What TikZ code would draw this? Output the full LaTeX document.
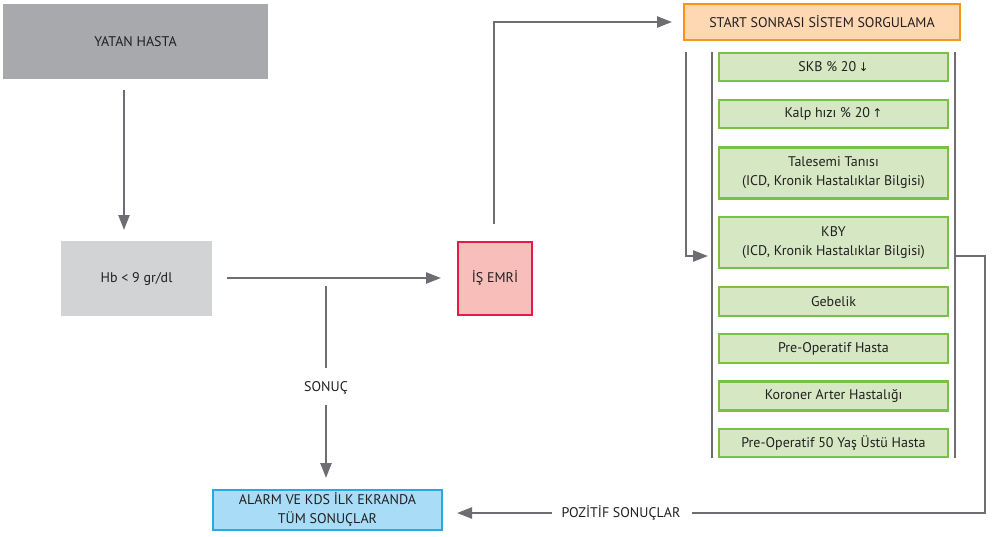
\documentclass[tikz,border=0pt]{standalone}
\usepackage{fontspec}
\setmainfont{PT Sans}
\newfontfamily\symfont{DejaVu Sans}
\usetikzlibrary{arrows.meta}
\definecolor{arrgray}{HTML}{6D6E71}
\definecolor{txtcol}{HTML}{231F20}
\definecolor{yatanfill}{HTML}{A7A9AC}
\definecolor{hbfill}{HTML}{D1D3D4}
\definecolor{pinkfill}{HTML}{F8BFBA}
\definecolor{pinkdraw}{HTML}{E8194F}
\definecolor{bluefill}{HTML}{A9DDF7}
\definecolor{bluedraw}{HTML}{27AAE1}
\definecolor{orfill}{HTML}{FDD8B3}
\definecolor{ordraw}{HTML}{F7941E}
\definecolor{grfill}{HTML}{D5E8C3}
\definecolor{grdraw}{HTML}{7AC143}
\begin{document}
\begin{tikzpicture}[x=1pt,y=-1pt,
  every node/.style={font=\fontsize{14}{19}\selectfont, text=txtcol, inner sep=0pt, align=center},
  basebox/.style={rectangle, minimum width=#1},
  graybox/.style={basebox=#1, fill=yatanfill},
  lgraybox/.style={basebox=#1, fill=hbfill},
  pinkbox/.style={basebox=#1, fill=pinkfill, draw=pinkdraw, line width=2pt},
  bluebox/.style={basebox=#1, fill=bluefill, draw=bluedraw, line width=2pt},
  orbox/.style={basebox=#1, fill=orfill, draw=ordraw, line width=2pt},
  grbox/.style={basebox=229pt, fill=grfill, draw=grdraw, line width=2.2pt, minimum height=#1},
  conn/.style={draw=arrgray, line width=2.4pt},
  arr/.style={conn, -{Triangle[length=15pt,width=11pt]}},
  arrsym/.style={}
]
\useasboundingbox (0,0) rectangle (992,536);

% main boxes
\node[graybox=265pt, minimum height=75pt] (yatan) at (135.5,41.5) {YATAN HASTA};
\node[lgraybox=151pt, minimum height=75pt] (hb) at (136.5,278.5) {Hb < 9 gr/dl};
\node[pinkbox=74pt, minimum height=73pt] (isemri) at (495,278.5) {İŞ EMRİ};
\node[bluebox=229pt, minimum height=40pt] (alarm) at (327.5,510) {ALARM VE KDS İLK EKRANDA\\TÜM SONUÇLAR};
\node[orbox=276pt, minimum height=36pt] (start) at (822,22) {START SONRASI SİSTEM SORGULAMA};

% green list
\node[grbox=28pt] (g1) at (833.5,67) {SKB \% 20\,{\symfont\fontsize{12}{14}\selectfont↓}};
\node[grbox=28pt] (g2) at (833.5,114) {Kalp hızı \% 20\,{\symfont\fontsize{12}{14}\selectfont↑}};
\node[grbox=51pt] (g3) at (833.5,173) {Talesemi Tanısı\\(ICD, Kronik Hastalıklar Bilgisi)};
\node[grbox=51pt] (g4) at (833.5,242.5) {KBY\\(ICD, Kronik Hastalıklar Bilgisi)};
\node[grbox=29pt] (g5) at (833.5,301.5) {Gebelik};
\node[grbox=29pt] (g6) at (833.5,348.5) {Pre-Operatif Hasta};
\node[grbox=29pt] (g7) at (833.5,396) {Koroner Arter Hastalığı};
\node[grbox=28pt] (g8) at (833.5,443) {Pre-Operatif 50 Yaş Üstü Hasta};

% labels
\node (sonuc) at (326,388) {SONUÇ};
\node (pozitif) at (621,513) {POZİTİF SONUÇLAR};

% coordinates
\coordinate (y1) at (124,90);
\coordinate (h1) at (124,230);
\coordinate (hbr) at (227,278);
\coordinate (ieL) at (441,278);
\coordinate (s0) at (326,286);
\coordinate (s1) at (326,368);
\coordinate (s2) at (326,405);
\coordinate (s3) at (326,478);
\coordinate (ie1) at (494,224);
\coordinate (st1) at (672,22);
\coordinate (b0) at (686,52);
\coordinate (b1) at (708,256);
\coordinate (L0) at (712,52);
\coordinate (L1) at (712,458);
\coordinate (R0) at (955,52);
\coordinate (R1) at (955,458);
\coordinate (k0) at (955,256);
\coordinate (k1) at (985,513);
\coordinate (p0) at (692,513);
\coordinate (p1) at (552,513);
\coordinate (al) at (457,513);

% connectors
\draw[arr] (y1) -- (h1);
\draw[arr] (hbr) -- (ieL);
\draw[conn] (s0) -- (s1);
\draw[arr] (s2) -- (s3);
\draw[arr] (ie1) |- (st1);
\draw[arr] (b0) |- (b1);
\draw[conn] (L0) -- (L1);
\draw[conn] (R0) -- (R1);
\draw[conn] (k0) -| (k1) -- (p0);
\draw[arr] (p1) -- (al);
\end{tikzpicture}
\end{document}
